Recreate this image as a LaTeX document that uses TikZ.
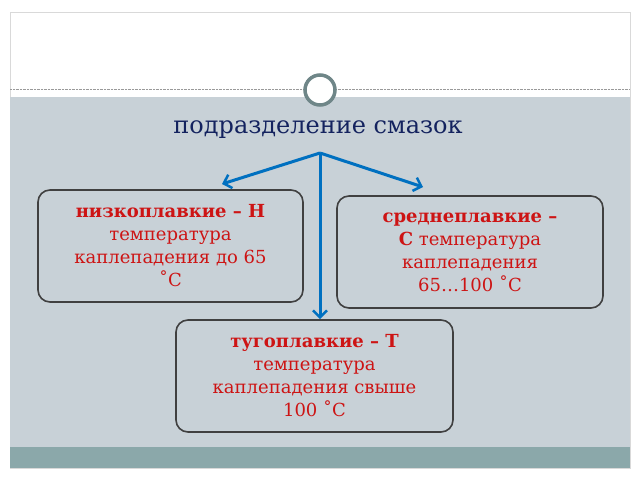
\documentclass[tikz,border=0pt]{standalone}
\usepackage{fontspec}
\setmainfont{DejaVu Serif}
\usetikzlibrary{arrows.meta}
\definecolor{bg}{RGB}{200,209,215}
\definecolor{band}{RGB}{139,168,170}
\definecolor{navy}{RGB}{20,35,95}
\definecolor{arr}{RGB}{0,112,192}
\definecolor{txt}{RGB}{205,20,20}
\tikzset{box/.style={draw=black!75,line width=1.6pt,rounded corners=12pt,fill=bg,text=txt,align=center,inner sep=2pt,font=\fontsize{18pt}{23pt}\selectfont},
 conn/.style={draw=arr,line width=3pt,-{Straight Barb[length=7pt,width=14pt,line width=2.5pt]}}}
\begin{document}
\begin{tikzpicture}[x=1pt,y=-1pt]
\useasboundingbox (0,0) rectangle (640,480);
\fill[white] (0,0) rectangle (640,480);
\draw[black!15,fill=white] (10,12) rectangle (630,468);
\fill[bg] (10,97) rectangle (630,447);
\fill[band] (10,447) rectangle (630,468);
\draw[black!40,densely dotted] (10,89) -- (630,89);
\node[circle,draw=band!80!black,line width=3.5pt,fill=white,minimum size=30pt] (c) at (320,90) {};
\node[text=navy,font=\fontsize{24pt}{28pt}\selectfont] (t) at (318,130) {подразделение смазок};
\coordinate (o) at (320,153);
\node[box,minimum width=265pt,minimum height=112pt] (l) at (170.5,246) {\textbf{низкоплавкие – Н}\\температура\\каплепадения до 65\\˚С};
\node[box,minimum width=266pt,minimum height=112pt] (r) at (470,252) {\textbf{среднеплавкие –}\\\textbf{С} температура\\каплепадения\\65…100 ˚С};
\node[box,minimum width=277pt,minimum height=112pt] (b) at (314.5,376) {\textbf{тугоплавкие – Т}\\температура\\каплепадения свыше\\100 ˚С};
\draw[conn] (o) -- (222,184);
\draw[conn] (o) -- (423,187);
\draw[conn] (o) -- (b.north -| o);
\end{tikzpicture}
\end{document}
